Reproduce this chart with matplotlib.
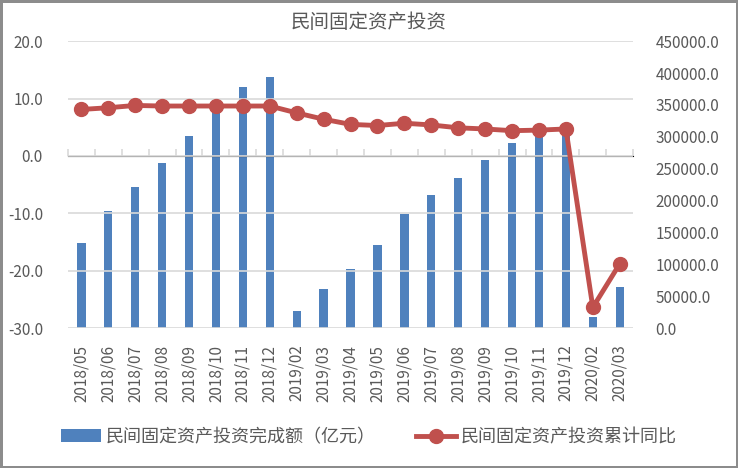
import matplotlib.pyplot as plt
import numpy as np

plt.rcParams['font.family'] = ['Noto Sans CJK SC', 'DejaVu Sans']

# 数据
months = ['2018/05', '2018/06', '2018/07', '2018/08', '2018/09', '2018/10', '2018/11',
          '2018/12', '2019/02', '2019/03', '2019/04', '2019/05', '2019/06', '2019/07',
          '2019/08', '2019/09', '2019/10', '2019/11', '2019/12', '2020/02', '2020/03']
invest = [133700, 183400, 221600, 258200, 301000, 340000, 378300, 394000,
          26700, 61100, 92500, 130100, 179200, 208500, 234700, 263400,
          290500, 302000, 311000, 17700, 64800]
growth = [8.1, 8.4, 8.8, 8.7, 8.7, 8.7, 8.7, 8.7, 7.5, 6.4, 5.5, 5.3, 5.7, 5.4,
          4.9, 4.7, 4.4, 4.5, 4.7, -26.4, -18.8]

left_ticks = np.arange(-30, 21, 10)
right_ticks = np.arange(0, 450001, 50000)

grid_c = '#d9d9d9'
text_c = '#595959'

fig = plt.figure(figsize=(7.38, 4.68), dpi=100, linewidth=2.5, edgecolor='#8c8c8c')
ax = fig.add_axes([0.092, 0.299, 0.766, 0.613])
ax2 = ax.twinx()

x = np.arange(len(months))

# 柱状图（右轴）
ax2.bar(x, invest, width=0.31, color='#4f81bd', zorder=2, label='民间固定资产投资完成额（亿元）')
ax2.set_ylim(0, 450000)
ax2.set_yticks(right_ticks)
ax2.set_yticklabels([f'{v:.1f}' for v in right_ticks])

# 折线图（左轴）
ax.set_zorder(ax2.get_zorder() + 1)
ax.patch.set_visible(False)
ax.plot(x, growth, color='#c0504d', linewidth=3.5, marker='o', markersize=10,
        zorder=3, label='民间固定资产投资累计同比')
ax.set_ylim(-30, 20)
ax.set_yticks(left_ticks)
ax.set_yticklabels([f'{v:.1f}' for v in left_ticks])
ax.grid(True, axis='y', color=grid_c, linewidth=1.2)
ax.set_axisbelow(True)

ax.set_xlim(-0.5, len(months) - 0.5)
ax.set_xticks(x)
ax.set_xticklabels(months, rotation=90)

for a in (ax, ax2):
    for s in a.spines.values():
        s.set_visible(False)
    a.tick_params(axis='both', length=0, colors=text_c, labelsize=11)
ax.tick_params(axis='y', pad=18)
ax2.tick_params(axis='y', pad=16)
ax.tick_params(axis='x', pad=12)

# 0 值处的分类轴刻度
sec = ax.secondary_xaxis(0.6)
sec.set_xticks(np.arange(-0.5, len(months), 1.0))
sec.set_xticklabels([])
sec.tick_params(axis='x', direction='out', length=5, color=grid_c, width=1.2)
sec.spines['bottom'].set_color(grid_c)
sec.spines['bottom'].set_linewidth(1.2)

fig.suptitle('民间固定资产投资', y=0.975, fontsize=14, color=text_c)

h1, l1 = ax2.get_legend_handles_labels()
h2, l2 = ax.get_legend_handles_labels()
fig.legend(h1 + h2, l1 + l2, loc='center', bbox_to_anchor=(0.5, 0.066), ncol=2,
           frameon=False, fontsize=13, labelcolor=text_c, handlelength=2.2,
           handletextpad=0.3, columnspacing=2.2)

fig.savefig('out.png', dpi=100, edgecolor=fig.get_edgecolor())
